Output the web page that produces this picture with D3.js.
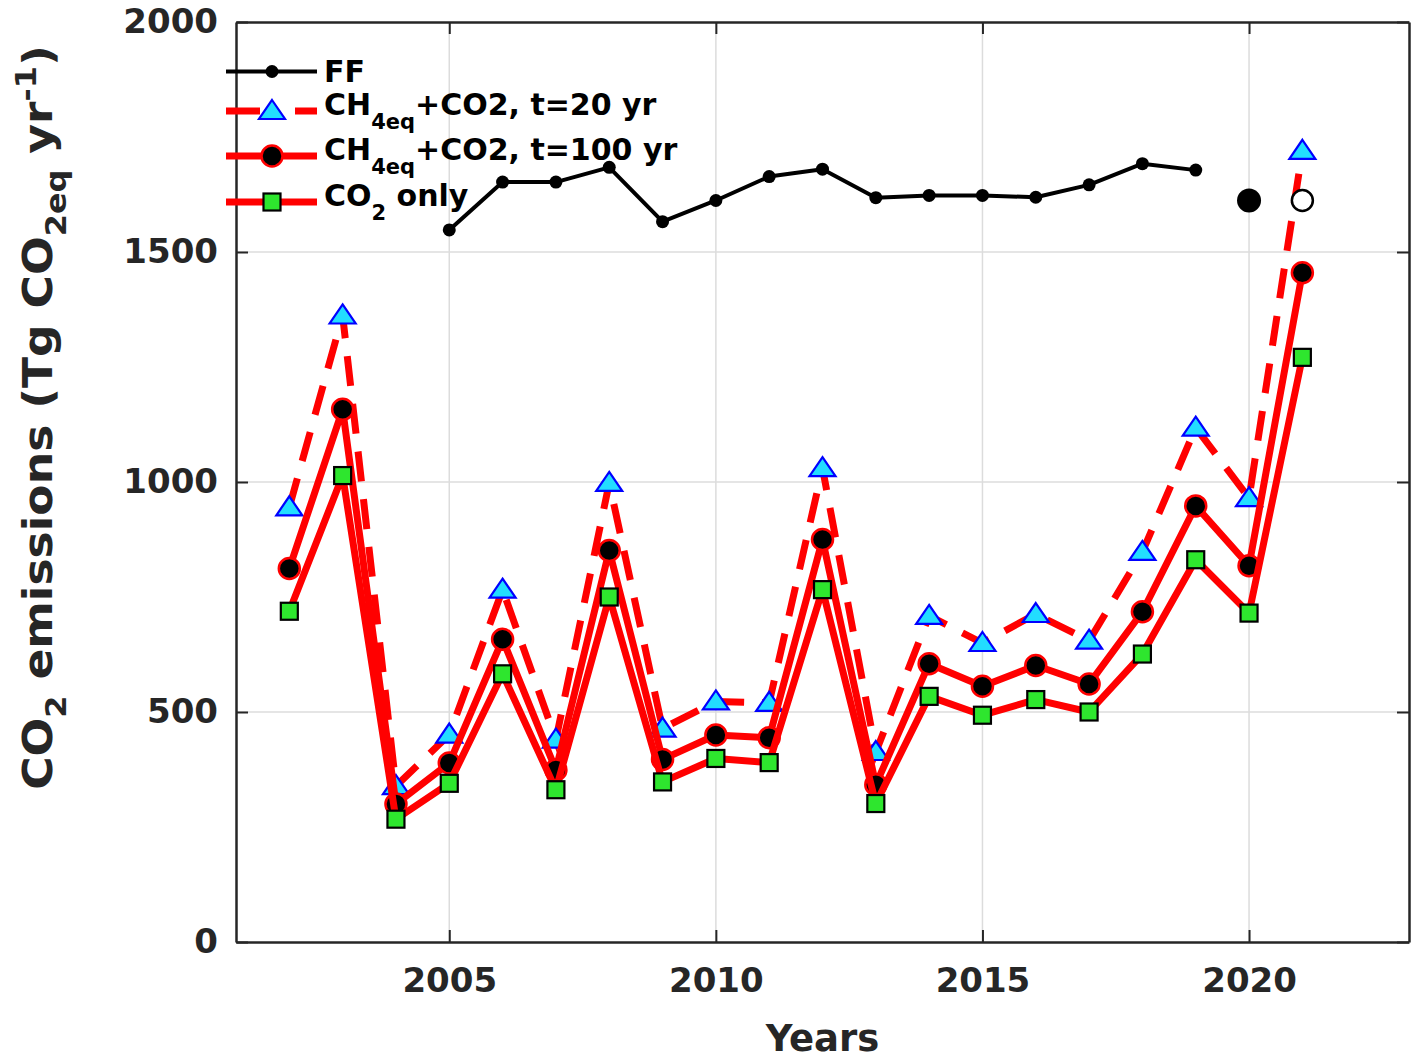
<!DOCTYPE html>
<html>
<head>
<meta charset="utf-8">
<script src="https://cdn.jsdelivr.net/npm/d3@7"></script>
<style>
  html, body { margin: 0; padding: 0; background: #fff; }
  svg { display: block; }
  text { font-family: "DejaVu Sans", sans-serif; font-weight: bold; fill: #262626; }
</style>
</head>
<body>
<svg id="chart" width="1418" height="1063"></svg>
<script>
// ---------------- data ----------------
const years = [2002, 2003, 2004, 2005, 2006, 2007, 2008, 2009, 2010, 2011,
               2012, 2013, 2014, 2015, 2016, 2017, 2018, 2019, 2020, 2021];
const ch4co2T20 = [945, 1362, 339, 451, 766, 440, 998, 464, 523, 520,
                   1030, 413, 709, 650, 713, 655, 848, 1118, 965, 1720];
const ch4co2T100 = [812, 1158, 300, 389, 658, 374, 851, 397, 450, 444,
                    875, 342, 605, 556, 601, 561, 718, 948, 818, 1455];
const co2Only = [719, 1014, 267, 345, 583, 331, 750, 348, 399, 390,
                 766, 301, 534, 493, 527, 500, 626, 831, 715, 1271];
const ffYears = [2005, 2006, 2007, 2008, 2009, 2010, 2011, 2012, 2013, 2014,
                 2015, 2016, 2017, 2018, 2019];
const ffValues = [1548, 1652, 1652, 1684, 1566, 1612, 1664, 1680, 1618, 1623,
                  1623, 1619, 1646, 1692, 1678];
const ffExtraFilled = { year: 2020, value: 1612 };
const ffExtraOpen = { year: 2021, value: 1612 };
const xTicks = [2005, 2010, 2015, 2020];
const yTicks = [0, 500, 1000, 1500, 2000];
const xDomain = [2001, 2023];
const yDomain = [0, 2000];

// ---------------- layout ----------------
const svg = d3.select("#chart");
const L = 236, R = 1409, T = 22, B = 942;
const x = d3.scaleLinear().domain(xDomain).range([L, R]);
const y = d3.scaleLinear().domain(yDomain).range([B, T]);

const RED = "#ff0000", CYAN = "#22ddff", BLUE = "#0000ff", GREEN = "#2ee62e", INK = "#262626";

// grid
const grid = svg.append("g");
grid.selectAll("line.gx").data(xTicks).join("line")
  .attr("x1", d => x(d)).attr("x2", d => x(d)).attr("y1", T).attr("y2", B)
  .attr("stroke", "#dcdcdc").attr("stroke-width", 1.5);
grid.selectAll("line.gy").data(yTicks.filter(d => d > 0 && d < 2000)).join("line")
  .attr("x1", L).attr("x2", R).attr("y1", d => y(d)).attr("y2", d => y(d))
  .attr("stroke", "#dcdcdc").attr("stroke-width", 1.5);

// axes (ticks inward)
const tickLen = 12;
const axB = svg.append("g").attr("transform", `translate(0,${B})`)
  .call(d3.axisBottom(x).tickValues(xTicks).tickFormat(d3.format("d")).tickSizeInner(-tickLen).tickSizeOuter(0).tickPadding(26));
const axL = svg.append("g").attr("transform", `translate(${L},0)`)
  .call(d3.axisLeft(y).tickValues(yTicks).tickFormat(d3.format("d")).tickSizeInner(-tickLen).tickSizeOuter(0).tickPadding(18));
const axT = svg.append("g").attr("transform", `translate(0,${T})`)
  .call(d3.axisTop(x).tickValues(xTicks).tickFormat("").tickSizeInner(-tickLen).tickSizeOuter(0));
const axR = svg.append("g").attr("transform", `translate(${R},0)`)
  .call(d3.axisRight(y).tickValues(yTicks).tickFormat("").tickSizeInner(-tickLen).tickSizeOuter(0));
[axB, axL, axT, axR].forEach(a => {
  a.select(".domain").attr("stroke", INK).attr("stroke-width", 2.5);
  a.selectAll(".tick line").attr("stroke", INK).attr("stroke-width", 2);
  a.selectAll(".tick text").style("font-size", "34px").style("font-family", "DejaVu Sans").style("font-weight", "bold").attr("fill", INK);
});
axB.selectAll(".tick text").attr("dy", "0.71em");

// ---------------- series ----------------
const lineGen = d3.line().x(d => x(d[0])).y(d => y(d[1]));
const pts = vals => years.map((yr, i) => [yr, vals[i]]);
const ffPts = ffYears.map((yr, i) => [yr, ffValues[i]]);

const tri = "M0,-11 L13,8 L-13,8 Z";

function drawFF(g) {
  g.append("path").datum(ffPts).attr("d", lineGen).attr("fill", "none")
    .attr("stroke", "#000").attr("stroke-width", 4).attr("stroke-linejoin", "round");
  g.selectAll("circle.ff").data(ffPts).join("circle")
    .attr("cx", d => x(d[0])).attr("cy", d => y(d[1])).attr("r", 6.5).attr("fill", "#000");
}
function drawT20(g, data) {
  g.append("path").datum(data).attr("d", lineGen).attr("fill", "none")
    .attr("stroke", RED).attr("stroke-width", 7).attr("stroke-dasharray", "30,18");
  g.selectAll("path.tri").data(data).join("path")
    .attr("d", tri).attr("transform", d => `translate(${x(d[0])},${y(d[1])})`)
    .attr("fill", CYAN).attr("stroke", BLUE).attr("stroke-width", 2.2).attr("stroke-linejoin", "miter");
}
function drawT100(g, data) {
  g.append("path").datum(data).attr("d", lineGen).attr("fill", "none")
    .attr("stroke", RED).attr("stroke-width", 7).attr("stroke-linejoin", "round");
  g.selectAll("circle.c").data(data).join("circle")
    .attr("cx", d => x(d[0])).attr("cy", d => y(d[1])).attr("r", 10.5)
    .attr("fill", "#000").attr("stroke", RED).attr("stroke-width", 2.5);
}
function drawCO2(g, data) {
  g.append("path").datum(data).attr("d", lineGen).attr("fill", "none")
    .attr("stroke", RED).attr("stroke-width", 7).attr("stroke-linejoin", "round");
  g.selectAll("rect.s").data(data).join("rect")
    .attr("x", d => x(d[0]) - 8.5).attr("y", d => y(d[1]) - 8.5).attr("width", 17).attr("height", 17)
    .attr("fill", GREEN).attr("stroke", "#000").attr("stroke-width", 2.2);
}

const plot = svg.append("g");
drawFF(plot.append("g"));
drawT20(plot.append("g"), pts(ch4co2T20));
drawT100(plot.append("g"), pts(ch4co2T100));
drawCO2(plot.append("g"), pts(co2Only));
plot.append("circle").attr("cx", x(ffExtraFilled.year)).attr("cy", y(ffExtraFilled.value))
  .attr("r", 12).attr("fill", "#000");
plot.append("circle").attr("cx", x(ffExtraOpen.year)).attr("cy", y(ffExtraOpen.value))
  .attr("r", 10.5).attr("fill", "#fff").attr("stroke", "#000").attr("stroke-width", 2.5);

// ---------------- legend ----------------
const leg = svg.append("g");
const lx1 = 226, lx2 = 317, lmx = 272, ltx = 324;
const rows = [
  { yl: 71.5, base: 10.5, kind: "ff", parts: [["FF", 0]] },
  { yl: 111, base: 4, kind: "t20", parts: [["CH", 0], ["4eq", 1], ["+CO2, t=20 yr", 0]] },
  { yl: 156, base: 4, kind: "t100", parts: [["CH", 0], ["4eq", 1], ["+CO2, t=100 yr", 0]] },
  { yl: 202, base: 3.5, kind: "co2", parts: [["CO", 0], ["2", 1], [" only", 0]] }
];
rows.forEach(r => {
  const g = leg.append("g");
  if (r.kind === "ff") {
    g.append("line").attr("x1", lx1).attr("x2", lx2).attr("y1", r.yl).attr("y2", r.yl).attr("stroke", "#000").attr("stroke-width", 4);
    g.append("circle").attr("cx", lmx).attr("cy", r.yl).attr("r", 6.5).attr("fill", "#000");
  } else if (r.kind === "t20") {
    g.append("line").attr("x1", lx1).attr("x2", lx2).attr("y1", r.yl).attr("y2", r.yl).attr("stroke", RED).attr("stroke-width", 7).attr("stroke-dasharray", "34,35");
    g.append("path").attr("d", tri).attr("transform", `translate(${lmx},${r.yl})`).attr("fill", CYAN).attr("stroke", BLUE).attr("stroke-width", 2.2);
  } else if (r.kind === "t100") {
    g.append("line").attr("x1", lx1).attr("x2", lx2).attr("y1", r.yl).attr("y2", r.yl).attr("stroke", RED).attr("stroke-width", 7);
    g.append("circle").attr("cx", lmx).attr("cy", r.yl).attr("r", 10.5).attr("fill", "#000").attr("stroke", RED).attr("stroke-width", 2.5);
  } else {
    g.append("line").attr("x1", lx1).attr("x2", lx2).attr("y1", r.yl).attr("y2", r.yl).attr("stroke", RED).attr("stroke-width", 7);
    g.append("rect").attr("x", lmx - 8.5).attr("y", r.yl - 8.5).attr("width", 17).attr("height", 17).attr("fill", GREEN).attr("stroke", "#000").attr("stroke-width", 2.2);
  }
  const t = g.append("text").attr("x", ltx).attr("y", r.yl + r.base).style("font-size", "30px").attr("fill", "#000");
  let sub = false;
  r.parts.forEach(([s, isSub]) => {
    const ts = t.append("tspan").text(s);
    if (isSub && !sub) { ts.attr("dy", 14).style("font-size", "21px"); sub = true; }
    else if (!isSub && sub) { ts.attr("dy", -14); sub = false; }
  });
  t.style("fill", "#000");
});

// ---------------- axis titles ----------------
svg.append("text").attr("x", (L + R) / 2).attr("y", 1051).attr("text-anchor", "middle")
  .style("font-size", "37px").text("Years");

const yl = svg.append("text").attr("text-anchor", "middle").style("font-size", "40px");
yl.append("tspan").text("CO");
yl.append("tspan").attr("dy", 14).style("font-size", "28px").text("2");
yl.append("tspan").attr("dy", -14).text(" emissions (Tg CO");
yl.append("tspan").attr("dy", 14).style("font-size", "28px").text("2eq");
yl.append("tspan").attr("dy", -14).text(" yr");
yl.append("tspan").attr("dy", -16).style("font-size", "28px").text("-1");
yl.append("tspan").attr("dy", 16).text(")");
const len = yl.node().getComputedTextLength();
const targetLen = 745;
const sx = targetLen / len;
yl.attr("transform", `translate(52,${(45 + 790) / 2}) rotate(-90) scale(${sx},1)`);
</script>
</body>
</html>
